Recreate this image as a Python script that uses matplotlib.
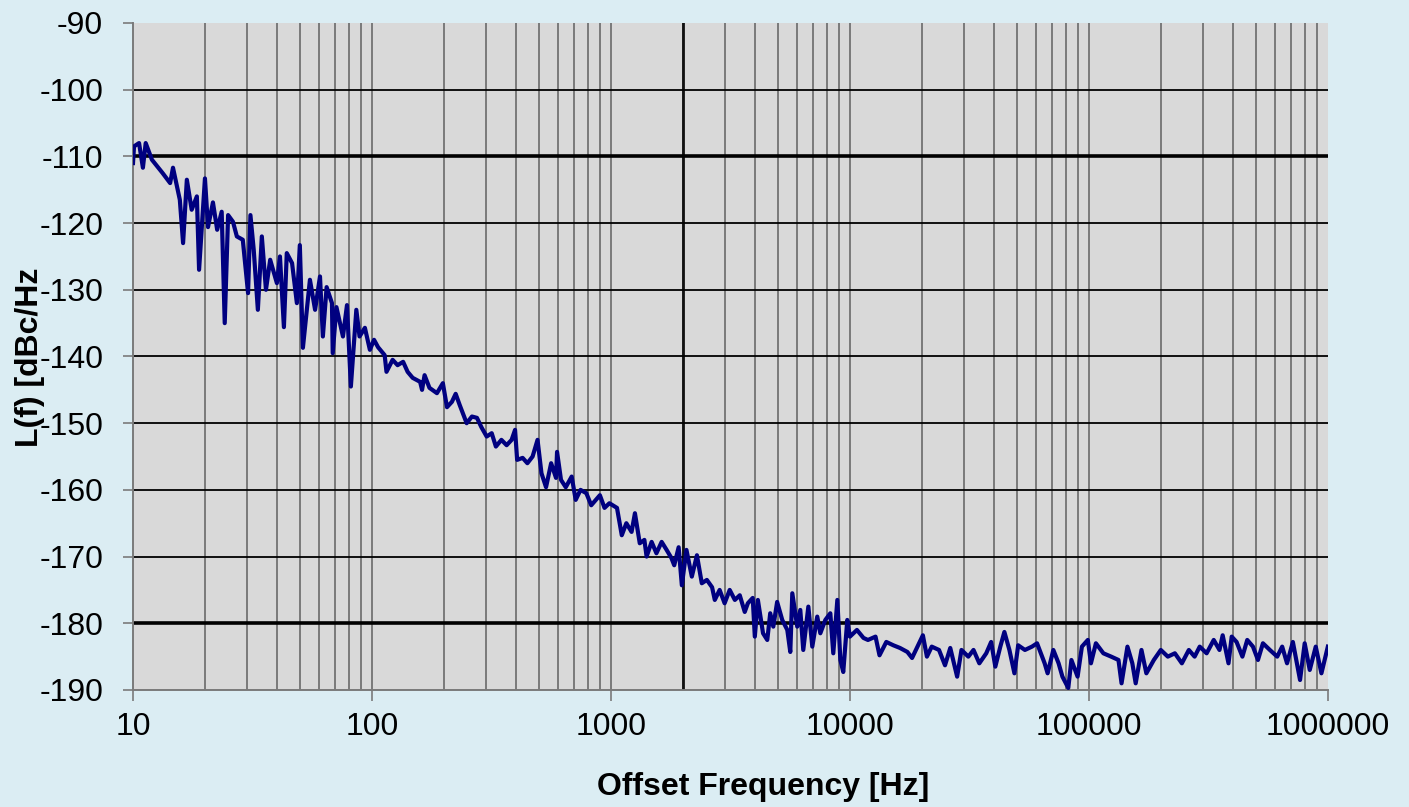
import matplotlib.pyplot as plt
from matplotlib.ticker import FixedLocator, NullFormatter

# phase noise trace
freq = [
    10, 10.1, 10.6, 11.0, 11.3, 12.0, 13.3, 14.3, 14.7, 15.7,
    16.2, 16.8, 17.6, 18.5, 18.9, 20, 20.6, 21.6, 22.5, 23.5,
    24.2, 25, 26.2, 27.2, 28.8, 30.3, 31, 32, 33.3, 34.6,
    36, 37.5, 40, 41.2, 42.8, 44, 46.3, 48.5, 49.9, 51.4,
    55, 57.8, 60.6, 62.3, 64.6, 68, 68.5, 71, 75.6, 78.6,
    81.6, 86, 88.7, 93.4, 98, 102, 106, 113, 115, 122,
    128, 135, 141, 148, 159, 162, 166, 174, 187, 198,
    206, 216, 224, 233, 249, 262, 275, 287, 302, 317,
    330, 348, 366, 384, 397, 405, 427, 447, 470, 493,
    512, 535, 562, 589, 595, 618, 647, 685, 712, 746,
    789, 827, 899, 940, 985, 1060, 1110, 1160, 1220, 1260,
    1320, 1380, 1410, 1480, 1550, 1630, 1710, 1790, 1840, 1920,
    1980, 2070, 2180, 2290, 2400, 2520, 2650, 2720, 2850, 2990,
    3140, 3300, 3460, 3630, 3740, 3920, 4000, 4120, 4330, 4510,
    4640, 4780, 4960, 5210, 5470, 5630, 5740, 6020, 6200, 6380,
    6700, 6960, 7300, 7520, 7890, 8280, 8520, 8860, 9120, 9380,
    9750, 10000, 10700, 11400, 11900, 12800, 13300, 14200, 15200, 16200,
    17400, 18200, 19300, 20200, 21000, 22000, 23600, 25000, 26300, 28100,
    29300, 31300, 32900, 34800, 37200, 39000, 40600, 42600, 44300, 46500,
    48800, 50600, 54000, 57800, 60700, 65300, 67200, 71000, 74700, 77500,
    82000, 84500, 89700, 93500, 99000, 102000, 107000, 115000, 124000, 133000,
    137000, 145000, 152000, 157000, 166000, 174000, 187000, 200000, 214000, 229000,
    245000, 262000, 277000, 291000, 311000, 333000, 352000, 363000, 384000, 396000,
    415000, 439000, 460000, 486000, 510000, 535000, 572000, 614000, 644000, 675000,
    714000, 765000, 800000, 840000, 890000, 940000, 1000000,
]
noise = [
    -111, -108.5, -108, -111.7, -108, -110.5, -112.5, -114, -111.7, -116.5,
    -123, -113.5, -118, -116, -127, -113.3, -120.6, -116.9, -121, -118.3,
    -135, -118.8, -119.8, -122, -122.5, -130.5, -118.8, -124, -133, -122,
    -130, -125.5, -129, -125, -135.6, -124.5, -126, -132, -123.3, -138.7,
    -128.5, -133, -128, -137, -129.6, -132, -139.5, -132.6, -137, -132.3,
    -144.5, -133, -137, -135.7, -139, -137.5, -138.6, -139.8, -142.3, -140.5,
    -141.3, -140.8, -142.3, -143.2, -143.8, -145, -142.8, -144.7, -145.5, -144,
    -147.6, -146.8, -145.6, -147.3, -150, -149, -149.2, -150.6, -152, -151.5,
    -153.5, -152.5, -153.3, -152.5, -151, -155.5, -155.2, -156, -155, -152.5,
    -157.5, -159.6, -156, -158.2, -154.3, -158.5, -159.6, -158, -161.5, -160,
    -160.5, -162.3, -160.8, -162.7, -162, -162.7, -166.8, -165, -166.3, -163.5,
    -168, -167.5, -170, -167.8, -169.5, -167.8, -169, -170.2, -171.3, -168.6,
    -174.3, -169, -173, -169.8, -174, -173.5, -174.6, -176.5, -175, -177,
    -175, -176.5, -175.8, -178.3, -177, -176.2, -182, -176.5, -181.5, -182.5,
    -178.5, -180.5, -176.8, -179.5, -181, -184.3, -175.5, -180.5, -178, -184,
    -177.5, -183.5, -179, -181.5, -179.5, -178.5, -184.5, -176.5, -185.5, -187.3,
    -179.5, -182, -181, -182.2, -182.5, -182, -184.8, -182.8, -183.3, -183.7,
    -184.3, -185.2, -183.3, -181.8, -185, -183.5, -184, -186.3, -183.7, -188,
    -184, -185, -184, -186, -184.5, -182.8, -186.5, -183.5, -181.3, -184,
    -187.5, -183.3, -184, -183.5, -183, -186, -187.5, -184, -186, -188,
    -189.7, -185.5, -188, -183.5, -182.5, -186, -183, -184.5, -185, -185.5,
    -189, -183.5, -186, -189, -184, -187.5, -185.5, -184, -185, -184.5,
    -186, -184, -185, -183.5, -184.5, -182.5, -184, -181.8, -186, -182,
    -182.8, -185, -182.5, -183.5, -185.5, -183, -184, -185, -183.5, -186,
    -182.8, -188.5, -183, -187, -183.5, -187.5, -183.5,
]

yticks = [-190, -180, -170, -160, -150, -140, -130, -120, -110, -100, -90]
xticks = [10, 100, 1000, 10000, 100000, 1000000]
xtick_labels = ['10', '100', '1000', '10000', '100000', '1000000']

plt.rcParams['font.family'] = ['Liberation Sans', 'DejaVu Sans']

bg = '#dbedf3'
fig = plt.figure(figsize=(14.09, 8.07), dpi=100, facecolor=bg)
ax = fig.add_axes([0.0944, 0.145, 0.848, 0.8265])
ax.set_facecolor('#d9d9d9')

ax.set_xscale('log')
ax.set_xlim(10, 1e6)
ax.set_ylim(-190, -90)

# vertical grid: every 1..9 per decade, grey
minor = [m * 10 ** d for d in range(1, 6) for m in range(1, 10)][1:]
for x in minor:
    ax.axvline(x, color='#7a7a7a', lw=1.4, zorder=1)
ax.axvline(2000, color='#111111', lw=2.0, zorder=1)

for y in yticks[1:-1]:
    lw = 2.6 if y in (-110, -180) else 1.3
    ax.axhline(y, color='black', lw=lw, zorder=1)

ax.plot(freq, noise, color='#000080', lw=3.0, zorder=3, solid_joinstyle='round')

ax.xaxis.set_major_locator(FixedLocator(xticks))
ax.set_xticklabels(xtick_labels)
ax.xaxis.set_minor_locator(FixedLocator([]))
ax.xaxis.set_minor_formatter(NullFormatter())
ax.set_yticks(yticks)
ax.set_yticklabels([str(v) for v in yticks])

ax.tick_params(axis='x', length=8, width=1.2, color='#7a7a7a', labelsize=23, pad=8)
ax.tick_params(axis='y', length=7.5, width=1.2, color='#7a7a7a', labelsize=23, pad=14)

for side in ('top', 'right'):
    ax.spines[side].set_visible(False)
for side in ('left', 'bottom'):
    ax.spines[side].set_color('#7a7a7a')
    ax.spines[side].set_linewidth(1.4)

fig.text(0.5415, 0.025, 'Offset Frequency [Hz]', fontsize=23, fontweight='bold',
         ha='center', va='center')
fig.text(0.021, 0.557, 'L(f) [dBc/Hz', rotation=90, fontsize=23, fontweight='bold',
         ha='center', va='center')

fig.savefig('out.png', dpi=100, facecolor=bg)
